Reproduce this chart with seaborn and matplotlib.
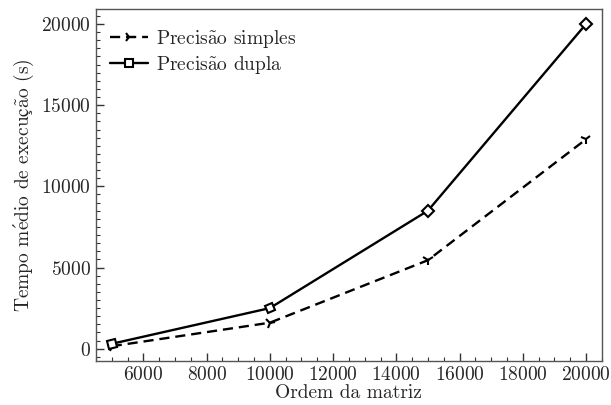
import numpy as np
import pandas as pd
import matplotlib
matplotlib.use("Agg")
import matplotlib.pyplot as plt
import seaborn as sns
from matplotlib.markers import MarkerStyle
from matplotlib.transforms import Affine2D
from matplotlib.ticker import MultipleLocator
from matplotlib.lines import Line2D

# dados
ordem = [5000, 10000, 15000, 20000]
tempo_simples = [150, 1600, 5450, 12900]
tempo_dupla = [300, 2500, 8500, 20000]
rotulos = ["Precisão simples", "Precisão dupla"]

sns.set_style("ticks")
plt.rcParams["font.family"] = ["cmr10", "STIXGeneral", "DejaVu Serif"]
plt.rcParams["axes.formatter.use_mathtext"] = True
plt.rcParams["mathtext.fontset"] = "cm"


# acentos via mathtext (cmr10 nao tem os glifos acentuados)
def tex(s):
    s = s.replace("ã", r"$\mathrm{\~a}$").replace("é", r"$\mathrm{\'e}$")
    s = s.replace("ç", r"$\mathrm{ç}$")
    return s


df = pd.DataFrame({
    "ordem": ordem * 2,
    "tempo": tempo_simples + tempo_dupla,
    "precisao": [rotulos[0]] * len(ordem) + [rotulos[1]] * len(ordem),
})

lw = 1.7
tracejado = (0, (4.3, 2.5))

fig = plt.figure(figsize=(6.11, 4.05), dpi=100)
ax = fig.add_axes([0.157, 0.109, 0.828, 0.869])

sns.lineplot(data=df[df.precisao == rotulos[0]], x="ordem", y="tempo", color="black",
             linestyle=tracejado, linewidth=lw, ax=ax, legend=False)
sns.lineplot(data=df[df.precisao == rotulos[1]], x="ordem", y="tempo", color="black",
             linestyle="-", linewidth=lw, ax=ax, legend=False)

ax.set_xlim(4500, 20500)
ax.set_ylim(-750, 20930)


# marcadores girados na direcao da linha
def marcadores(xs, ys, marca, tam, face):
    pts = ax.transData.transform(np.column_stack([xs, ys]))
    n = len(pts)
    for i in range(n):
        dirs = []
        if i > 0:
            d = pts[i] - pts[i - 1]
            dirs.append(d / np.hypot(*d))
        if i < n - 1:
            d = pts[i + 1] - pts[i]
            dirs.append(d / np.hypot(*d))
        d = np.mean(dirs, axis=0)
        ang = np.degrees(np.arctan2(d[1], d[0]))
        m = MarkerStyle(marca, transform=Affine2D().rotate_deg(ang))
        ax.plot([xs[i]], [ys[i]], marker=m, markersize=tam, color="black",
                markerfacecolor=face, markeredgewidth=1.5, linestyle="none", zorder=3)


marcadores(ordem, tempo_simples, "4", 8, "black")
marcadores(ordem, tempo_dupla, "s", 6, "white")

fs = 14
handles = [
    Line2D([], [], color="black", linestyle=tracejado, linewidth=lw, marker="4",
           markersize=8, markeredgewidth=1.5),
    Line2D([], [], color="black", linestyle="-", linewidth=lw, marker="s",
           markersize=6, markeredgewidth=1.5, markerfacecolor="white"),
]
ax.legend(handles, [tex(r) for r in rotulos], loc="upper left", frameon=False, fontsize=fs,
          handlelength=2.0, handletextpad=0.4, borderaxespad=0.3,
          bbox_to_anchor=(0.0, 0.985), labelspacing=0.2)

ax.xaxis.set_major_locator(MultipleLocator(2000))
ax.xaxis.set_minor_locator(MultipleLocator(500))
ax.yaxis.set_major_locator(MultipleLocator(5000))
ax.yaxis.set_minor_locator(MultipleLocator(500))
ax.tick_params(which="both", direction="in", top=False, right=False, labelsize=fs,
               color="#333333")
ax.tick_params(which="major", length=6, width=1)
ax.tick_params(which="minor", length=3, width=0.8)
for s in ax.spines.values():
    s.set_color("#555555")
    s.set_linewidth(1)

ax.set_xlabel("Ordem da matriz", fontsize=fs, labelpad=0)
ax.set_ylabel(tex("Tempo médio de execução (s)"), fontsize=fs, labelpad=4)

fig.savefig("out.png", dpi=100)
